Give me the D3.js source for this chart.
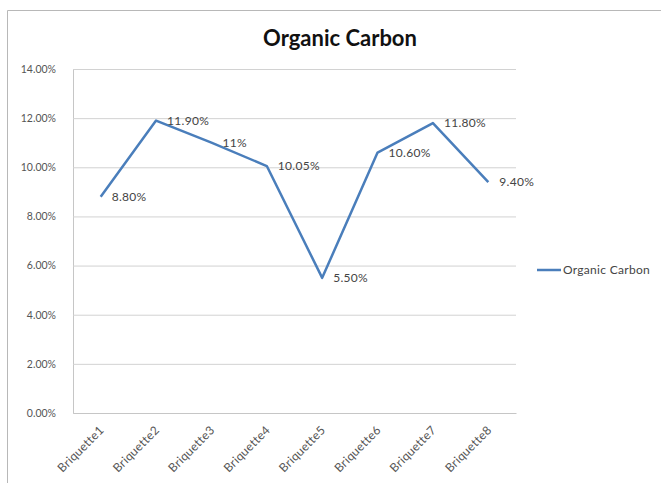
<!DOCTYPE html>
<html>
<head>
<meta charset="utf-8">
<script src="https://cdn.jsdelivr.net/npm/d3@7"></script>
<style>
  html, body { margin: 0; padding: 0; background: #fff; }
  svg { display: block; }
</style>
</head>
<body>
<svg id="chart" width="661" height="483"></svg>
<script>
// Organic carbon content per briquette sample (percent)
const categories = ["Briquette1", "Briquette2", "Briquette3", "Briquette4",
                    "Briquette5", "Briquette6", "Briquette7", "Briquette8"];
const values = [8.80, 11.90, 11.00, 10.05, 5.50, 10.60, 11.80, 9.40];
const valueLabels = ["8.80%", "11.90%", "11%", "10.05%", "5.50%", "10.60%", "11.80%", "9.40%"];
const yTicks = [0, 2, 4, 6, 8, 10, 12, 14];
const seriesName = "Organic Carbon";
const chartTitle = "Organic Carbon";

const svg = d3.select("#chart");
const font = "Lato, 'Open Sans', sans-serif";
const lineColor = "#4a7ebb";

// Chart frame
svg.append("path")
  .attr("d", "M7.5,483 V10.5 H661")
  .attr("fill", "none")
  .attr("stroke", "#b8b8b8")
  .attr("stroke-width", 1);

const plot = { left: 73, right: 516, top: 69, bottom: 413 };

const x = d3.scaleBand().domain(categories).range([plot.left, plot.right]);
const y = d3.scaleLinear().domain([0, 14]).range([plot.bottom, plot.top]);

// Horizontal gridlines + y labels
const yAxis = d3.axisLeft(y)
  .tickValues(yTicks)
  .tickSize(-(plot.right - plot.left))
  .tickPadding(17)
  .tickFormat(d => d.toFixed(2) + "%");

const gy = svg.append("g")
  .attr("transform", `translate(${plot.left},0)`)
  .call(yAxis);
gy.select(".domain").attr("stroke", "#c6c6c6");
gy.selectAll(".tick line").attr("stroke", "#d2d2d2");
gy.selectAll(".tick text")
  .attr("fill", "#555")
  .attr("font-family", font)
  .attr("font-size", 10.5);

// Category axis with rotated labels
const xAxis = d3.axisBottom(x).tickSize(0);
const gx = svg.append("g")
  .attr("transform", `translate(0,${plot.bottom})`)
  .call(xAxis);
gx.select(".domain").attr("stroke", "#c6c6c6");
gx.selectAll(".tick text")
  .attr("fill", "#555")
  .attr("font-family", font)
  .attr("font-size", 12)
  .attr("letter-spacing", "0.3px")
  .attr("text-anchor", "end")
  .attr("x", 0)
  .attr("y", 0)
  .attr("dy", "0.35em")
  .attr("transform", "translate(1,15) rotate(-45)");

// Series line
const pts = categories.map((c, i) => ({ c, v: values[i], label: valueLabels[i] }));
const line = d3.line()
  .x(d => x(d.c) + x.bandwidth() / 2)
  .y(d => y(d.v));

svg.append("path")
  .datum(pts)
  .attr("d", line)
  .attr("fill", "none")
  .attr("stroke", lineColor)
  .attr("stroke-width", 2.5)
  .attr("stroke-linejoin", "round");

// Data labels to the right of each point
svg.append("g").selectAll("text")
  .data(pts)
  .join("text")
  .attr("x", d => x(d.c) + x.bandwidth() / 2 + 11)
  .attr("y", d => y(d.v))
  .attr("dy", "0.35em")
  .attr("fill", "#444")
  .attr("font-family", font)
  .attr("font-size", 12)
  .attr("letter-spacing", "0.3px")
  .text(d => d.label);

// Title
svg.append("text")
  .attr("x", 340)
  .attr("y", 46)
  .attr("text-anchor", "middle")
  .attr("font-family", font)
  .attr("font-weight", "bold")
  .attr("font-size", 22)
  .attr("fill", "#111")
  .text(chartTitle);

// Legend
const lg = svg.append("g").attr("transform", "translate(537,270)");
lg.append("line")
  .attr("x1", 0).attr("x2", 24)
  .attr("stroke", lineColor)
  .attr("stroke-width", 2.5);
lg.append("text")
  .attr("x", 26)
  .attr("dy", "0.35em")
  .attr("fill", "#444")
  .attr("font-family", font)
  .attr("font-size", 12)
  .attr("letter-spacing", "0.3px")
  .text(seriesName);
</script>
</body>
</html>
